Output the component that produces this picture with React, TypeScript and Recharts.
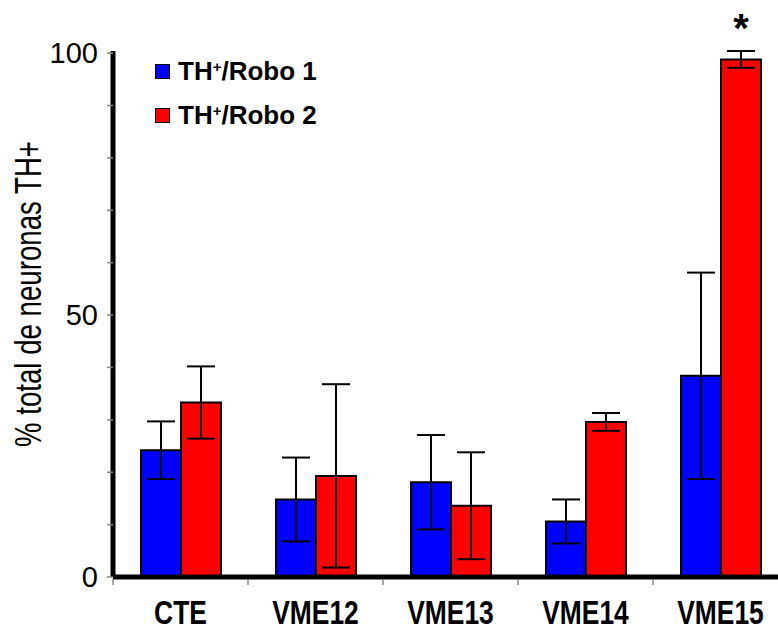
import { BarChart, Bar, XAxis, YAxis, ErrorBar, Legend, LabelList } from 'recharts'

const categories = ['CTE', 'VME12', 'VME13', 'VME14', 'VME15']
const robo1 = [24.2, 14.8, 18.1, 10.6, 38.4]
const robo1Err = [5.5, 8.0, 9.0, 4.2, 19.7]
const robo2 = [33.3, 19.3, 13.6, 29.6, 98.8]
const robo2Err = [6.9, 17.5, 10.2, 1.7, 1.6]
const marks = ['', '', '', '', '*']
const yTicks = [0, 10, 20, 30, 40, 50, 60, 70, 80, 90, 100]
const yLabels = [0, 50, 100]

const data = categories.map((c, i) => ({
  cat: c,
  r1: robo1[i],
  r1e: robo1Err[i],
  r2: robo2[i],
  r2e: robo2Err[i],
  mark: marks[i],
}))

const FONT = 'Liberation Sans, Arial, sans-serif'
const PLOT_W = 675

// category label plus a small tick at the left edge of each band
function CatTick({ x, y, payload }: any) {
  const band = PLOT_W / categories.length
  return (
    <g>
      <line x1={x - band / 2} x2={x - band / 2} y1={y + 2} y2={y + 8} stroke="#888" strokeWidth={1.5} />
      <g transform={`translate(${x} ${y + 47}) scale(0.8 1)`}>
        <text x={0} y={0} textAnchor="middle" fontFamily={FONT} fontWeight="bold" fontSize={33} fill="#000">
          {payload.value}
        </text>
      </g>
    </g>
  )
}

function YLabel() {
  const cx = 41
  const cy = 294
  return (
    <text
      x={cx}
      y={cy}
      transform={`rotate(-90 ${cx} ${cy})`}
      textAnchor="middle"
      fontFamily={FONT}
      fontSize={36}
      textLength={306}
      lengthAdjust="spacingAndGlyphs"
      fill="#000"
    >
      % total de neuronas TH+
    </text>
  )
}

function Mark({ x, y, width, value }: any) {
  if (!value) return null
  return (
    <text x={x + width / 2} y={y - 17} textAnchor="middle" fontFamily={FONT} fontWeight="bold" fontSize={40} fill="#000">
      {value}
    </text>
  )
}

function LegendBox() {
  const items = [
    { color: '#0000FF', n: '1' },
    { color: '#FF0000', n: '2' },
  ]
  return (
    <div style={{ fontFamily: FONT, fontWeight: 'bold', fontSize: 26, lineHeight: 1 }}>
      {items.map((it) => (
        <div key={it.n} style={{ display: 'flex', alignItems: 'center', height: 44 }}>
          <span style={{ display: 'inline-block', width: 13, height: 13, background: it.color, border: '1px solid #000', marginRight: 8 }} />
          <span>
            TH<sup style={{ fontSize: 15, verticalAlign: 8 }}>+</sup>/Robo {it.n}
          </span>
        </div>
      ))}
    </div>
  )
}

export default function App() {
  return (
    <div style={{ position: 'absolute', left: 0, top: 0, width: 778, height: 628, overflow: 'hidden', background: '#fff' }}>
      <BarChart
        width={800}
        height={628}
        data={data}
        margin={{ top: 51, right: 12, left: 0, bottom: 0 }}
        barGap={0}
        barCategoryGap={28}
      >
        <XAxis
          dataKey="cat"
          height={51}
          tick={<CatTick />}
          tickLine={false}
          tickSize={0}
          tickMargin={0}
          axisLine={{ stroke: '#000', strokeWidth: 5 }}
          interval={0}
        />
        <YAxis
          width={113}
          domain={[0, 100]}
          ticks={yTicks}
          interval={0}
          tickFormatter={(v: number) => (yLabels.includes(v) ? String(v) : '')}
          tick={{ fontSize: 29, fontFamily: FONT, fill: '#000' }}
          tickLine={{ stroke: '#888', strokeWidth: 1.5 }}
          tickSize={6}
          tickMargin={9}
          axisLine={{ stroke: '#000', strokeWidth: 5 }}
          label={<YLabel />}
        />
        <Legend
          layout="vertical"
          verticalAlign="middle"
          align="center"
          content={<LegendBox />}
          wrapperStyle={{ left: 155, top: 49, width: 240 }}
        />
        <Bar dataKey="r1" fill="#0000FF" stroke="#000" strokeWidth={2} isAnimationActive={false}>
          <ErrorBar dataKey="r1e" width={14} stroke="#000" strokeWidth={2} />
        </Bar>
        <Bar dataKey="r2" fill="#FF0000" stroke="#000" strokeWidth={2} isAnimationActive={false}>
          <ErrorBar dataKey="r2e" width={14} stroke="#000" strokeWidth={2} />
          <LabelList dataKey="mark" content={<Mark />} />
        </Bar>
      </BarChart>
    </div>
  )
}
